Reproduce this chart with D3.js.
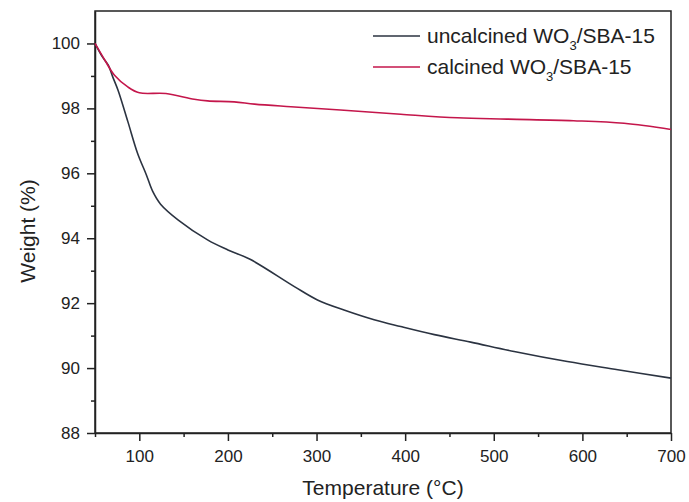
<!DOCTYPE html>
<html>
<head>
<meta charset="utf-8">
<script src="https://cdnjs.cloudflare.com/ajax/libs/d3/7.8.5/d3.min.js"></script>
<style>
  body { margin: 0; background: #fff; }
  text { font-family: "Liberation Sans", Arial, sans-serif; fill: #222; }
  .axis path, .axis line { stroke: #222; stroke-width: 1.5; }
  .axis text { font-size: 17px; fill: #222; }
</style>
</head>
<body>
<div id="viz"></div>
<script>
// temperature (C) / weight (%)
var uncalT = [50, 58, 65, 70, 76, 87, 98, 108, 115, 124, 144, 177, 200, 225, 275, 301, 331, 365, 395, 433, 474, 523, 583, 640, 700];
var uncalW = [100, 99.6, 99.33, 98.97, 98.56, 97.6, 96.62, 95.95, 95.45, 95.05, 94.56, 93.95, 93.64, 93.35, 92.51, 92.1, 91.79, 91.49, 91.28, 91.03, 90.8, 90.51, 90.2, 89.95, 89.69];

var calT = [50, 61, 72, 87, 100, 130, 162, 177, 207, 230, 271, 327, 395, 459, 515, 590, 647, 700];
var calW = [100, 99.49, 99.02, 98.66, 98.48, 98.46, 98.28, 98.23, 98.2, 98.13, 98.05, 97.95, 97.82, 97.71, 97.67, 97.62, 97.54, 97.35];

var xMajor = [100, 200, 300, 400, 500, 600, 700];
var xMinor = [50, 150, 250, 350, 450, 550, 650];
var yMajor = [88, 90, 92, 94, 96, 98, 100];
var yMinor = [89, 91, 93, 95, 97, 99];

var seriesNames = ["uncalcined WO", "calcined WO"];
var colors = ["#2b3341", "#c4164b"];

var width = 689, height = 502;
var pL = 95, pR = 671, pT = 11, pB = 433;

var svg = d3.select("#viz").append("svg")
  .attr("width", width)
  .attr("height", height);

var x = d3.scaleLinear().domain([50, 700]).range([pL, pR]);
var y = d3.scaleLinear().domain([88, 101]).range([pB, pT]);

// frame
svg.append("rect")
  .attr("x", pL).attr("y", pT)
  .attr("width", pR - pL).attr("height", pB - pT)
  .attr("fill", "none").attr("stroke", "#222").attr("stroke-width", 1.5);

// minor ticks first
svg.append("g").attr("class", "axis")
  .attr("transform", "translate(0," + pB + ")")
  .call(d3.axisBottom(x).tickValues(xMinor).tickSize(4).tickFormat(""))
  .select(".domain").remove();
svg.append("g").attr("class", "axis")
  .attr("transform", "translate(" + pL + ",0)")
  .call(d3.axisLeft(y).tickValues(yMinor).tickSize(4).tickFormat(""))
  .select(".domain").remove();

svg.append("g").attr("class", "axis")
  .attr("transform", "translate(0," + pB + ")")
  .call(d3.axisBottom(x).tickValues(xMajor).tickSize(8).tickSizeOuter(0).tickPadding(9));
svg.append("g").attr("class", "axis")
  .attr("transform", "translate(" + pL + ",0)")
  .call(d3.axisLeft(y).tickValues(yMajor).tickSize(8).tickSizeOuter(0).tickPadding(7));

// curves
var line = d3.line()
  .x(function(d) { return x(d[0]); })
  .y(function(d) { return y(d[1]); })
  .curve(d3.curveCatmullRom.alpha(0.5));

var series = [d3.zip(uncalT, uncalW), d3.zip(calT, calW)];

series.forEach(function(s, i) {
  svg.append("path")
    .datum(s)
    .attr("fill", "none")
    .attr("stroke", colors[i])
    .attr("stroke-width", 1.6)
    .attr("d", line);
});

// legend
var legY = [36, 67];
seriesNames.forEach(function(name, i) {
  svg.append("line")
    .attr("x1", 373).attr("x2", 420)
    .attr("y1", legY[i]).attr("y2", legY[i])
    .attr("stroke", colors[i]).attr("stroke-width", 1.5);
  var t = svg.append("text")
    .attr("x", 427).attr("y", legY[i] + 7)
    .style("font-size", "21px");
  t.append("tspan").text(name);
  t.append("tspan").attr("dy", 7).style("font-size", "13px").text("3");
  t.append("tspan").attr("dy", -7).text("/SBA-15");
});

// axis titles
svg.append("text")
  .attr("x", 383).attr("y", 495)
  .attr("text-anchor", "middle")
  .style("font-size", "21px")
  .text("Temperature (\u00B0C)");

svg.append("text")
  .attr("transform", "translate(35,231) rotate(-90)")
  .attr("text-anchor", "middle")
  .style("font-size", "21px")
  .text("Weight (%)");
</script>
</body>
</html>
